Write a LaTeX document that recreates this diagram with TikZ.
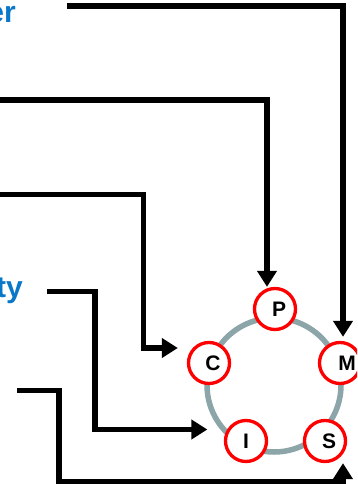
\documentclass[tikz,border=0pt]{standalone}
\usepackage{fontspec}
\setmainfont{Liberation Sans}
\usetikzlibrary{arrows.meta,calc}
\definecolor{ringgray}{RGB}{140,165,168}
\definecolor{labelblue}{RGB}{10,120,200}
\begin{document}
\begin{tikzpicture}[x=1pt,y=-1pt,
  conn/.style={line width=5.5pt, line join=miter, -{Triangle[length=16pt,width=19pt]}},
  stage/.style={circle, draw=red, line width=3.3pt, fill=white, minimum size=41pt, inner sep=0pt,
    font=\fontsize{21}{21}\selectfont\bfseries},
  lbl/.style={text=labelblue, font=\fontsize{30}{30}\selectfont\bfseries, inner sep=0pt}]
\useasboundingbox (0,0) rectangle (357,484);
\clip (0,0) rectangle (357,484);
% ring
\node[circle, draw=ringgray, line width=5.5pt, minimum size=134pt, inner sep=0pt] (ring) at (274,385) {};
% stages
\node[stage] (P) at (275,309) {\hspace*{8pt}P};
\node[stage] (C) at (209,363) {\hspace*{8pt}C};
\node[stage] (M) at (340,363) {\hspace*{14pt}M};
\node[stage] (I) at (246,441) {I};
\node[stage] (S) at (325,441) {\hspace*{8pt}S};
% labels
\node[lbl, anchor=base east] (t1) at (16,23) {er};
\node[lbl, anchor=base east] (t2) at (23,297) {ty};
% connector start points
\coordinate (sA) at (67,6);
\coordinate (sB) at (-5,100);
\coordinate (sC) at (-5,194.5);
\coordinate (sD) at (47,291.5);
\coordinate (sE) at (17,390.5);
% tips
\coordinate (tipM) at ($(M.north)+(3,-4)$);
\coordinate (tipP) at ($(P.north)+(-8,0)$);
\coordinate (tipC) at ($(C.west)+(-9,-15)$);
\coordinate (tipI) at ($(I.west)+(-16.5,-11.5)$);
\coordinate (tipS) at ($(S.south)+(18,0)$);
% connectors
\draw[conn] (sA) -| (tipM);
\draw[conn] (sB) -| (tipP);
\draw[conn] (sC) -| ($(tipC)+(-34.5,0)$) -- (tipC);
\draw[conn] (sD) -| ($(tipI)+(-112.5,0)$) -- (tipI);
\draw[conn] (sE) -| ($(tipS)+(-284,18.5)$) -| (tipS);
\end{tikzpicture}
\end{document}
